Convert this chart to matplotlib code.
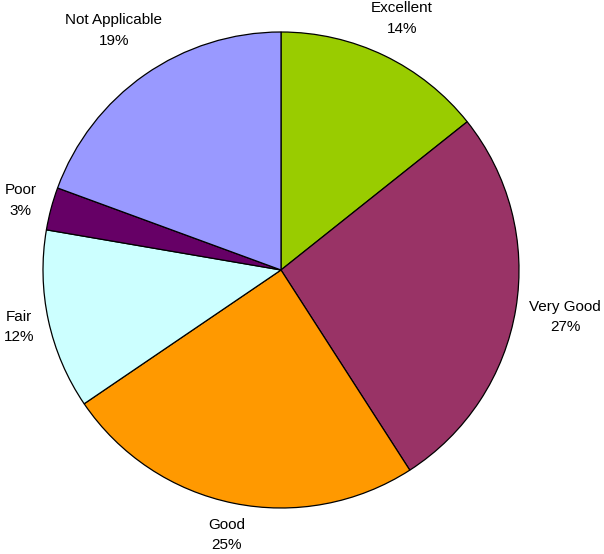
import numpy as np
import matplotlib.pyplot as plt

categories = ["Excellent", "Very Good", "Good", "Fair", "Poor", "Not Applicable"]
shares = [14.3, 26.6, 24.6, 12.2, 2.9, 19.4]
colors = ["#99CC00", "#993366", "#FF9900", "#CCFFFF", "#660066", "#9999FF"]

plt.rcParams["font.family"] = ["Liberation Sans", "DejaVu Sans"]

W, H = 604, 554
fig = plt.figure(figsize=(W / 100, H / 100), dpi=100)
cx, cy, r = 281, 270, 238
ax = fig.add_axes([(cx - r) / W, (H - cy - r) / H, 2 * r / W, 2 * r / H])

wedges, _ = ax.pie(
    shares, colors=colors, startangle=90, counterclock=False, radius=1.0,
    wedgeprops=dict(edgecolor="black", linewidth=0.9),
)
ax.set_xlim(-1, 1)
ax.set_ylim(-1, 1)
ax.set_aspect("equal")
ax.axis("off")

# labels sit just outside each wedge on its mid-angle; the box size is
# measured so the nearest edge of each label keeps the same gap to the rim
renderer = fig.canvas.get_renderer()
total = sum(shares)
gap = 0.05
for w, name, val in zip(wedges, categories, shares):
    ang = np.deg2rad((w.theta1 + w.theta2) / 2)
    dx, dy = np.cos(ang), np.sin(ang)
    t = ax.text(0, 0, f"{name}\n{val / total * 100:.0f}%",
                ha="center", va="center", fontsize=11, linespacing=1.6,
                clip_on=False)
    bb = t.get_window_extent(renderer)
    half_w = bb.width / 2 / r
    half_h = bb.height / 2 / r
    dist = 1 + gap + abs(dx) * half_w + abs(dy) * half_h
    t.set_position((dx * dist, dy * dist))

fig.savefig("out.png", dpi=100)
